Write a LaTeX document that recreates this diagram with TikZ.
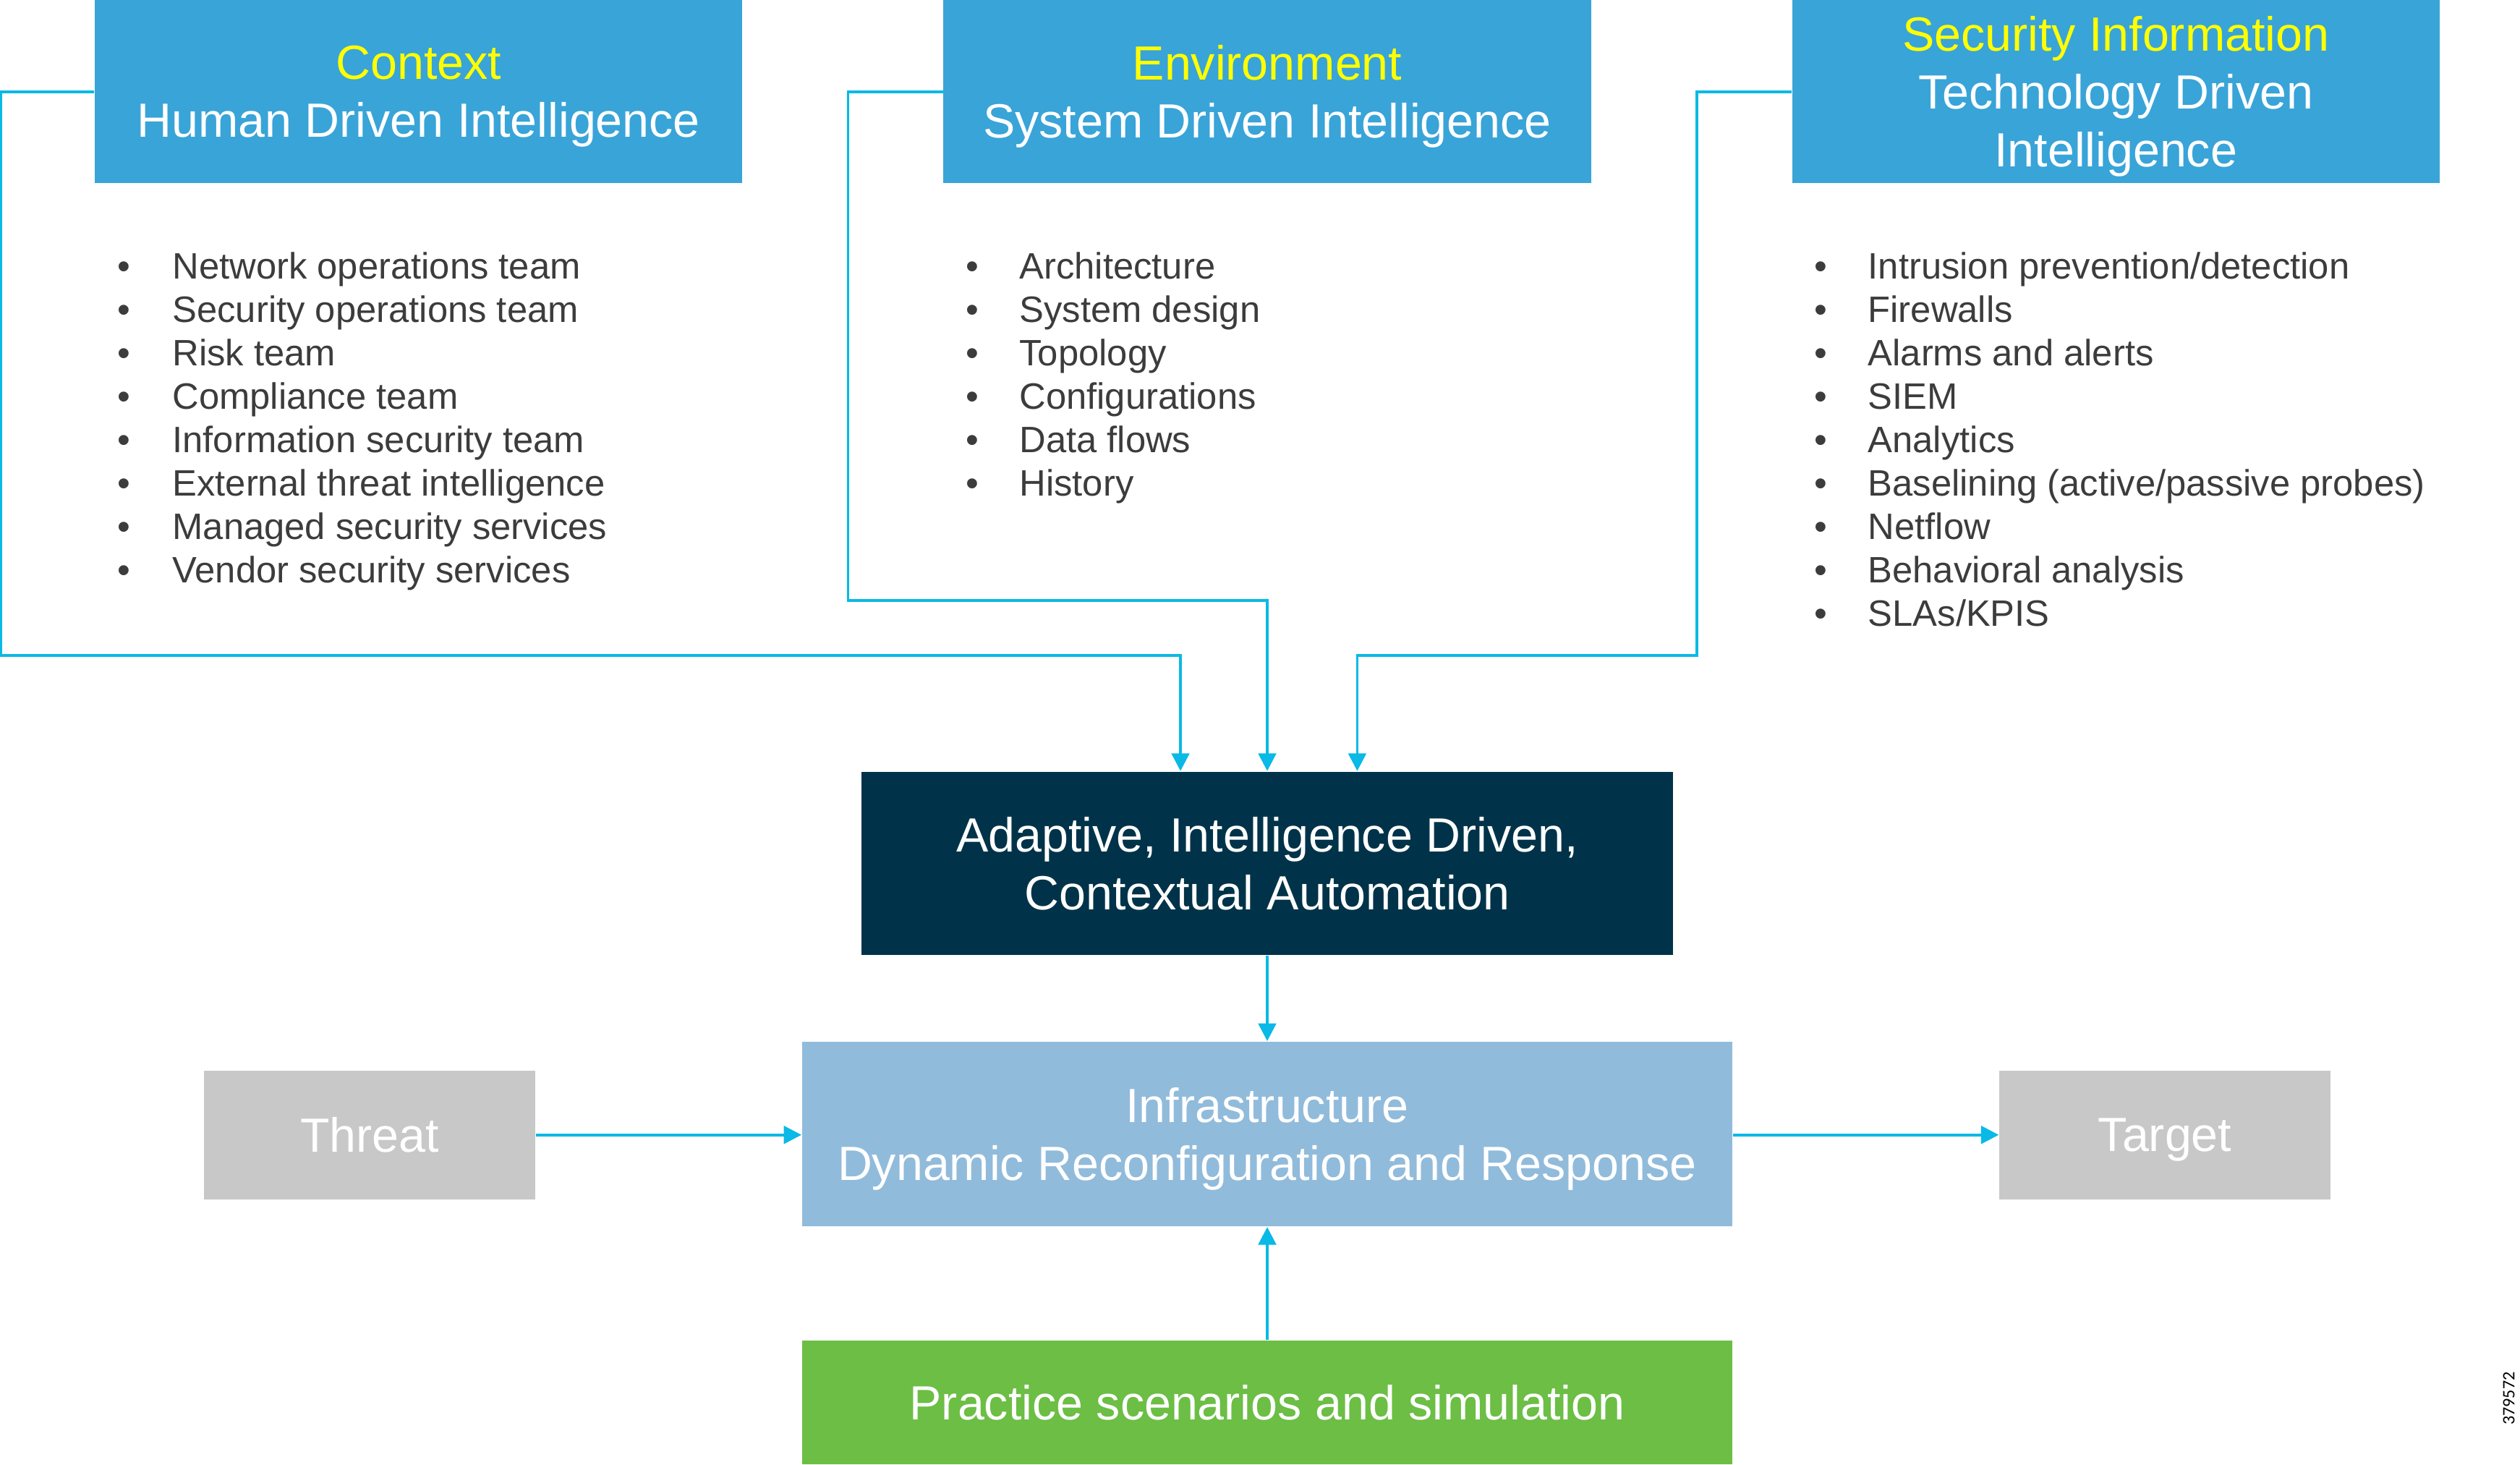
\documentclass[tikz,border=0pt]{standalone}
\usepackage{fontspec}
\setmainfont{Liberation Sans}
\newfontfamily\numfont{Carlito}
\usetikzlibrary{positioning, calc}
\usetikzlibrary{shapes.geometric, arrows.meta}

\definecolor{hdrblue}{RGB}{57,164,216}
\definecolor{hdryellow}{RGB}{255,255,0}
\definecolor{navy}{RGB}{0,51,73}
\definecolor{infrablue}{RGB}{145,187,219}
\definecolor{boxgray}{RGB}{200,200,200}
\definecolor{simgreen}{RGB}{108,190,69}
\definecolor{linkcyan}{RGB}{10,185,230}
\definecolor{itemgray}{RGB}{60,60,60}

\begin{document}
\begin{tikzpicture}[x=0.02cm, y=-0.02cm]
    \tikzset{base/.style = {rectangle, inner sep=0pt, text=white, align=center,
                           text depth=0pt, font=\fontsize{17}{20.5}\selectfont}}
    \tikzset{header/.style = {base, fill=hdrblue, minimum width=8.06cm, minimum height=2.28cm}}
    \tikzset{core/.style = {base, fill=navy, minimum width=10.1cm, minimum height=2.28cm}}
    \tikzset{infra/.style = {base, fill=infrablue, minimum width=11.58cm, minimum height=2.3cm}}
    \tikzset{side/.style = {base, fill=boxgray, minimum width=4.12cm, minimum height=1.6cm}}
    \tikzset{practice/.style = {base, fill=simgreen, minimum width=11.58cm, minimum height=1.54cm}}
    \tikzset{item/.style = {inner sep=0pt, anchor=mid west, text=itemgray,
                           font=\fontsize{13}{15.4}\selectfont}}
    \tikzset{dot/.style = {item, anchor=mid}}
    \tikzset{link/.style = {draw=linkcyan, line width=1pt,
                           -{Triangle[length=0.22cm, width=0.22cm]}}}

    \useasboundingbox (0,0) rectangle (1568,911);

    % headers
    \node (ctx) [header] at (260.5,57) {{\color{hdryellow}Context}\\Human Driven Intelligence};
    \node (env) [header] at (788.5,57) {{\color{hdryellow}Environment}\\System Driven Intelligence};
    \node (sec) [header] at (1316.5,57) {{\color{hdryellow}Security Information}\\Technology Driven\\Intelligence};

    % lists
    \foreach \txt [count=\i] in {Network operations team, Security operations team, Risk team,
        Compliance team, Information security team, External threat intelligence,
        Managed security services, Vendor security services} {
        \node (cb\i) [dot] at (77,142+27*\i) {\textbullet};
        \node (ci\i) [item] at (107,142+27*\i) {\txt};
    }
    \foreach \txt [count=\i] in {Architecture, System design, Topology,
        Configurations, Data flows, History} {
        \node (eb\i) [dot] at (605,142+27*\i) {\textbullet};
        \node (ei\i) [item] at (634,142+27*\i) {\txt};
    }
    \foreach \txt [count=\i] in {Intrusion prevention/detection, Firewalls, Alarms and alerts,
        SIEM, Analytics, Baselining (active/passive probes), Netflow,
        Behavioral analysis, SLAs/KPIS} {
        \node (sb\i) [dot] at (1133,142+27*\i) {\textbullet};
        \node (si\i) [item] at (1162,142+27*\i) {\txt};
    }

    % middle row
    \node (adapt) [core] at (788.5,537) {Adaptive, Intelligence Driven,\\Contextual Automation};
    \node (infr) [infra] at (788.5,705.5) {Infrastructure\\Dynamic Reconfiguration and Response};
    \node (threat) [side] at (230,706) {Threat};
    \node (target) [side] at (1347,706) {Target};
    \node (sim) [practice] at (788.5,872.5) {Practice scenarios and simulation};

    \node (fignum) [rotate=90, inner sep=0pt, font=\numfont\fontsize{6.2}{7}\selectfont] at (1561,870) {379572};

    % connectors
    \draw[link] (ctx.west) -- ++(-58,0) |- ($(adapt.north)+(-54,-72)$) -- ($(adapt.north)+(-54,0)$);
    \draw[link] (env.west) -- ++(-59,0) |- ($(adapt.north)+(0,-106)$) -- (adapt.north);
    \draw[link] (sec.west) -- ++(-59,0) |- ($(adapt.north)+(56,-72)$) -- ($(adapt.north)+(56,0)$);

    \draw[link] (adapt) -- (infr);
    \draw[link] (sim) -- (infr);
    \draw[link] (threat.east) -- (threat.east -| infr.west);
    \draw[link] (target.west -| infr.east) -- (target.west);

\end{tikzpicture}
\end{document}
